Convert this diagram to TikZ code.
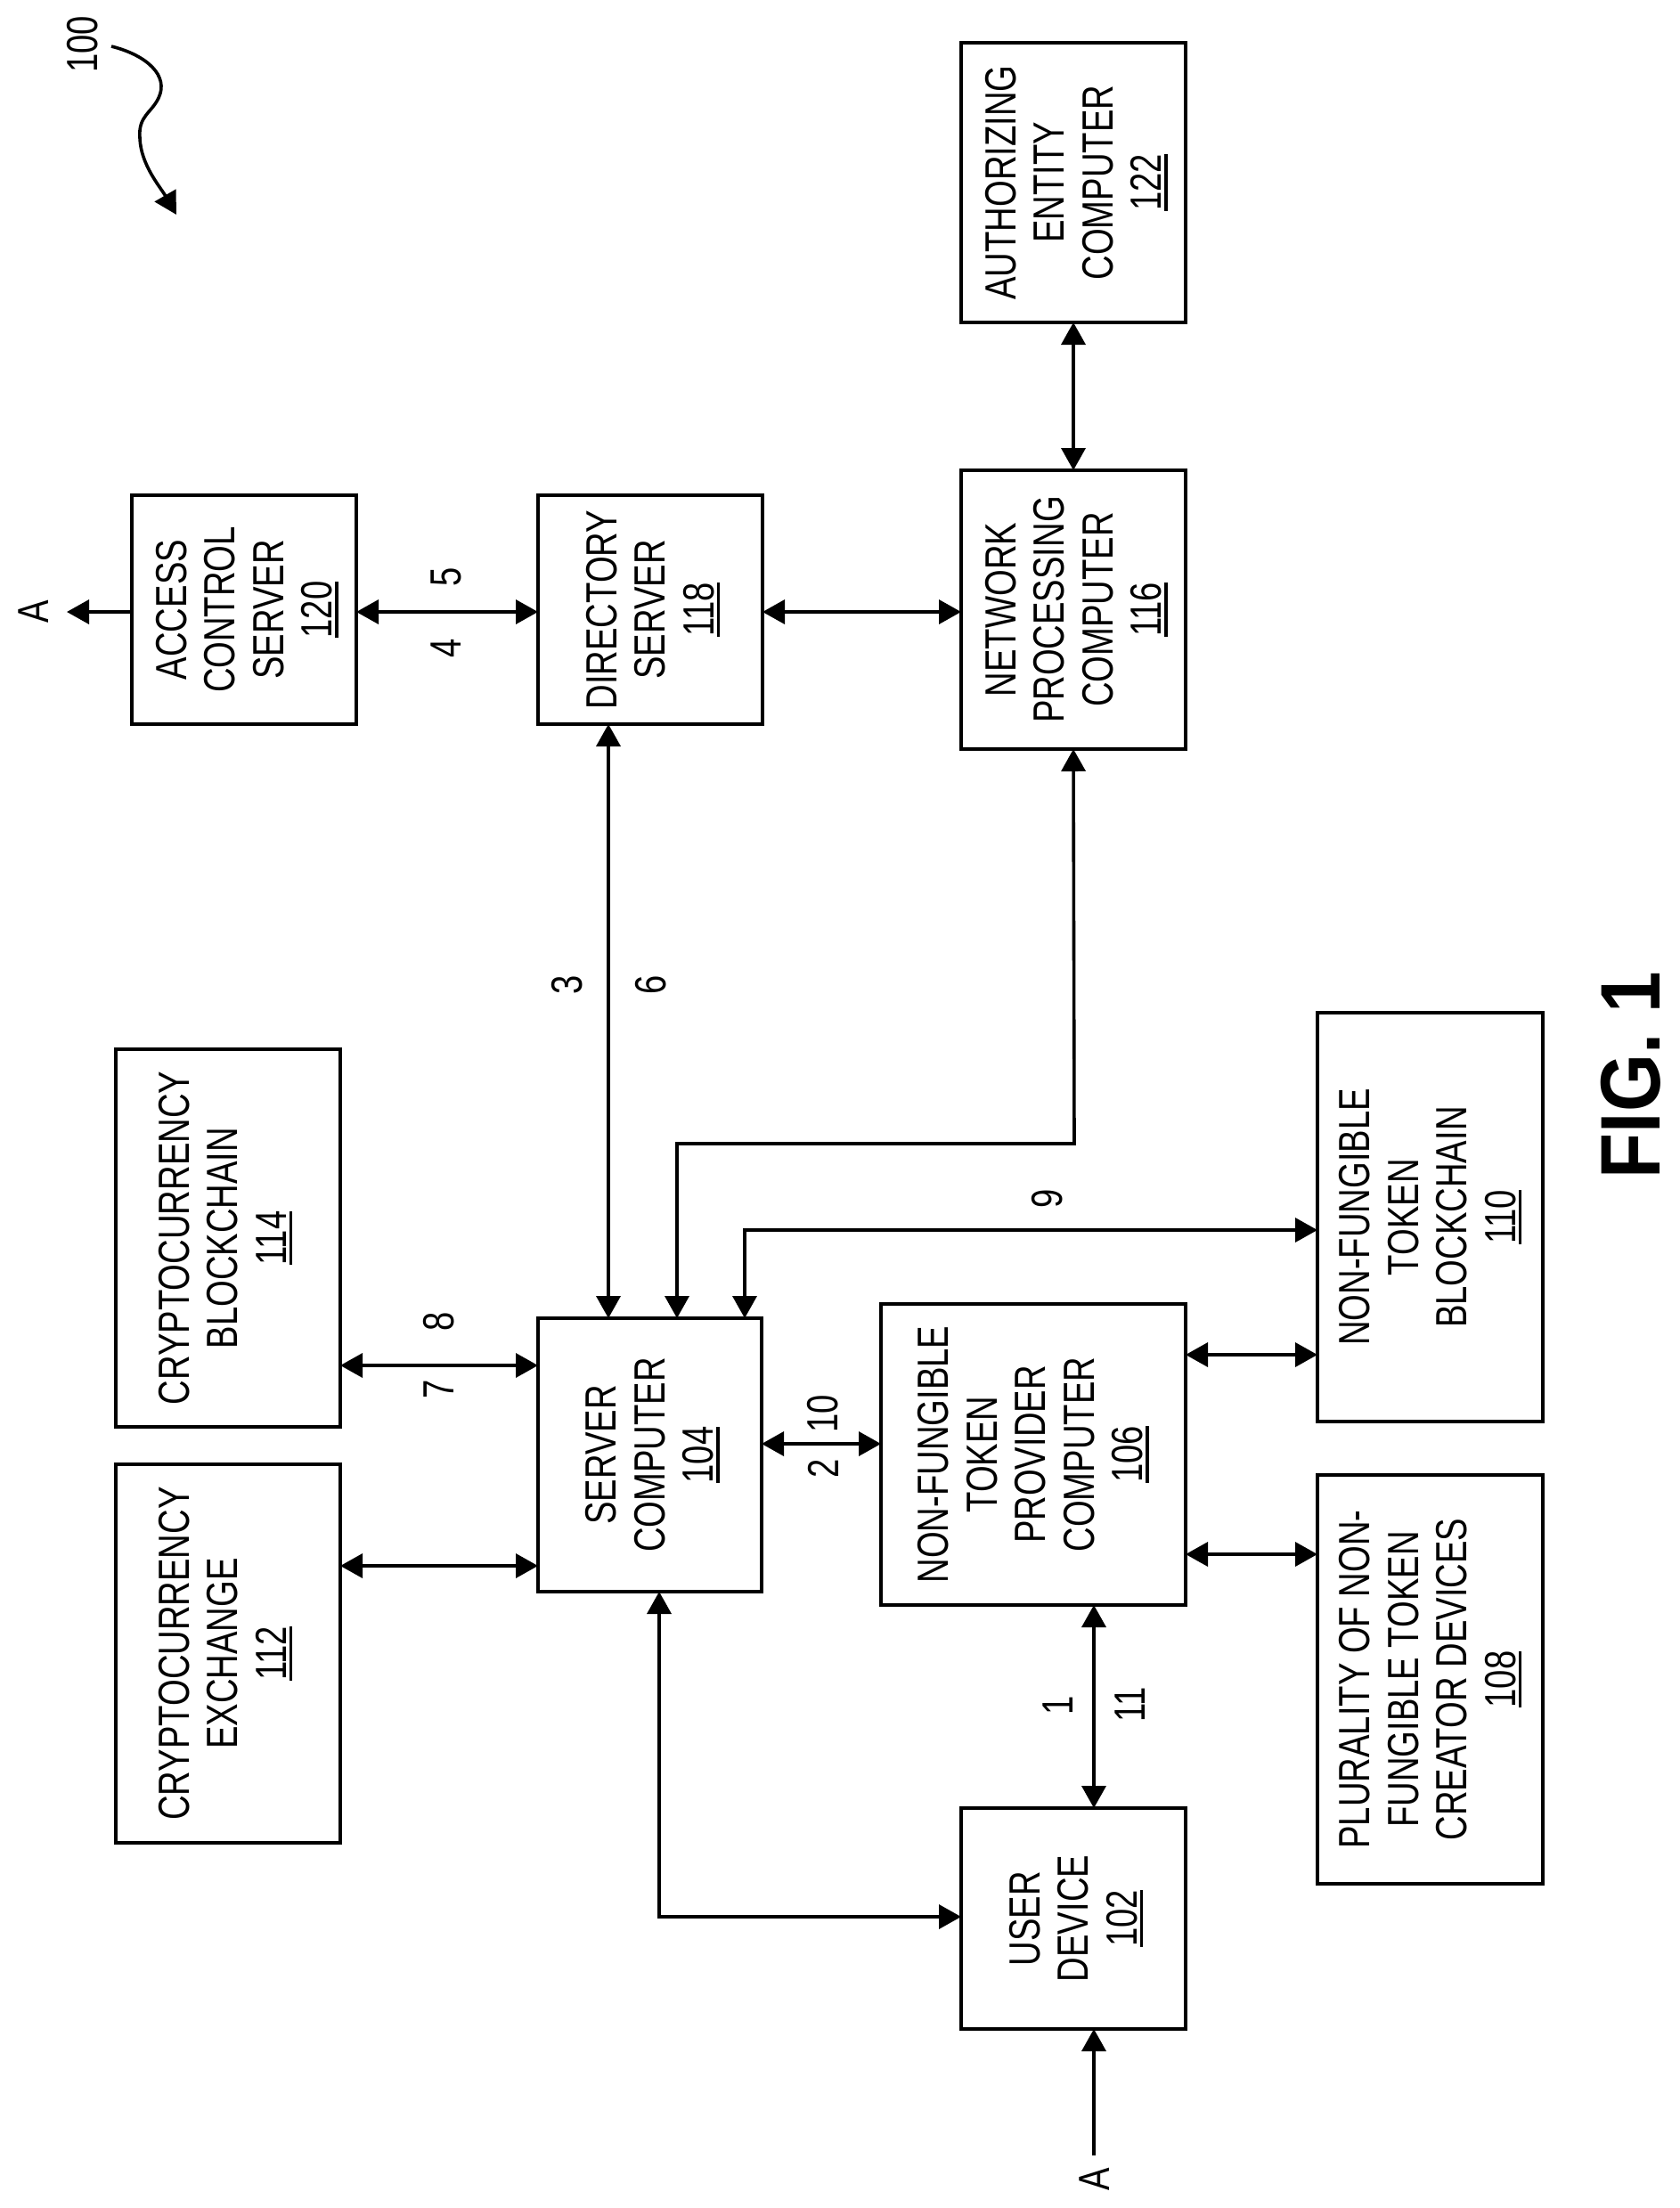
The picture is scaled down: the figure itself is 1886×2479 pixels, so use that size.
\documentclass[tikz,border=0pt]{standalone}
\usepackage{fontspec}
\usepackage{graphicx}
\setmainfont{Liberation Sans}[FakeStretch=0.78]
\newfontfamily\figfont{Liberation Sans}[FakeStretch=0.88]
\usetikzlibrary{arrows.meta,calc}
\newcommand\numul[1]{\setbox0=\hbox{#1}\leavevmode\rlap{\rule[-7pt]{\wd0}{3.5pt}}\box0}
\newcommand\toppad{50pt}
\newcommand\lines[1]{\rotatebox{90}{\begin{tabular}{@{}c@{}}\rule{0pt}{\toppad}#1\end{tabular}}}
\newcommand\bx[6]{%
 \pgfmathsetmacro\bw{#4-#2}\pgfmathsetmacro\bh{#5-#3}%
 \pgfmathsetmacro\cx{(#4+#2)/2}\pgfmathsetmacro\cy{(#5+#3)/2}%
 \node[blockbox,minimum width=\bw pt,minimum height=\bh pt] (#1) at (\cx,\cy) {\lines{#6}};}
\tikzset{
 blockbox/.style={draw=black,line width=4pt,inner sep=0pt,outer sep=0pt,fill=white,
   font=\fontsize{49}{54.5}\selectfont,align=center},
 conn/.style={line width=3.6pt,draw=black,{Triangle[length=25pt,width=27pt]}-{Triangle[length=25pt,width=27pt]}},
 oneway/.style={line width=3.6pt,draw=black,-{Triangle[length=25pt,width=27pt]}},
 lbl/.style={rotate=90,font=\fontsize{49}{54}\selectfont,inner sep=0pt},
}
\begin{document}
\begin{tikzpicture}[x=1pt,y=-1pt]
\useasboundingbox[fill=white] (0,0) rectangle (1886,2479);
\bx{n122}{1079}{48}{1331}{362}{AUTHORIZING\\ENTITY\\COMPUTER\\\numul{122}}
\bx{n116}{1079}{528}{1331}{841}{NETWORK\\PROCESSING\\COMPUTER\\\numul{116}}
\bx{n120}{148}{556}{400}{813}{ACCESS\\CONTROL\\SERVER\\\numul{120}}
\bx{n118}{604}{556}{856}{813}{DIRECTORY\\SERVER\\\numul{118}}
\bx{n104}{604}{1480}{855}{1787}{SERVER\\COMPUTER\\\numul{104}}
\bx{n102}{1079}{2030}{1331}{2278}{USER\\DEVICE\\\numul{102}}
\renewcommand\toppad{38pt}
\bx{n114}{130}{1178}{382}{1602}{CRYPTOCURRENCY\\BLOCKCHAIN\\\numul{114}}
\bx{n112}{130}{1644}{382}{2069}{CRYPTOCURRENCY\\EXCHANGE\\\numul{112}}
\renewcommand\toppad{44pt}
\bx{n106}{989}{1464}{1331}{1802}{NON-FUNGIBLE\\TOKEN\\PROVIDER\\COMPUTER\\\numul{106}}
\bx{n110}{1479}{1137}{1732}{1596}{NON-FUNGIBLE\\TOKEN\\BLOCKCHAIN\\\numul{110}}
\bx{n108}{1479}{1656}{1732}{2115}{PLURALITY OF NON-\\FUNGIBLE TOKEN\\CREATOR DEVICES\\\numul{108}}

\node[lbl] (atop) at (38,687) {A};
\node[lbl] (abot) at (1229,2447) {A};

% routing coordinates
\coordinate (r1) at (75,687);
\coordinate (r2) at (683,830);
\coordinate (r3) at (760,1284);
\coordinate (r4) at (1206,1284);
\coordinate (r5) at (836,1381);
\coordinate (r6) at (0,1533);
\coordinate (r7) at (0,1758);
\coordinate (r8) at (0,1621);
\coordinate (r9) at (0,1521);
\coordinate (r10) at (0,1745);
\coordinate (r11) at (1228,0);
\coordinate (r12) at (740,2152);
\coordinate (r13) at (1228,2420);
\coordinate (r14) at (0,687);

\draw[oneway] (n120.west |- r14) -- (r1);
\draw[conn] (n120.east |- r14) -- (n118.west |- r14);
\draw[conn] (n118.east |- r14) -- (n116.west |- r14);
\draw[conn] (n122.south) -- (n116.north);
\draw[conn] (n118.south -| r2) -- (n104.north -| r2);
\draw[conn] (n116.south) -- (r4) -- (r3) -- (n104.north -| r3);
\draw[conn] (n104.north -| r5) -- (r5) -- (n110.west |- r5);
\draw[conn] (n114.east |- r6) -- (n104.west |- r6);
\draw[conn] (n112.east |- r7) -- (n104.west |- r7);
\draw[conn] (n104.east |- r8) -- (n106.west |- r8);
\draw[conn] (n106.east |- r9) -- (n110.west |- r9);
\draw[conn] (n106.east |- r10) -- (n108.west |- r10);
\draw[conn] (n106.south -| r11) -- (n102.north -| r11);
\draw[oneway] (r13) -- (n102.south -| r13);
\draw[conn] (n104.south -| r12) -- (r12) -- (n102.west |- r12);

\node[lbl] (l5) at (501,648) {5};
\node[lbl] (l4) at (501,728) {4};
\node[lbl] (l3) at (637,1106) {3};
\node[lbl] (l6) at (731,1106) {6};
\node[lbl] (l9) at (1176,1346) {9};
\node[lbl] (l8) at (493,1484) {8};
\node[lbl] (l7) at (493,1560) {7};
\node[lbl] (l10) at (924,1587) {10};
\node[lbl] (l2) at (924,1649) {2};
\node[lbl] (l1) at (1188,1915) {1};
\node[lbl] (l11) at (1269,1914) {11};
\node[lbl] (l100) at (93,50) {100};
\node[lbl,font=\fontsize{95}{100}\figfont\bfseries] (fig) at (1831,1207) {FIG. 1};

\coordinate (c0) at (125,52);
\coordinate (c1) at (178,110);
\coordinate (c2) at (157,155);
\coordinate (c3) at (198,241);
\draw[line width=3.6pt,-{Triangle[length=25pt,width=27pt]}] (c0) .. controls (165,62) and (190,85) .. (c1) .. controls (170,127) and (155,130) .. (c2) .. controls (158,185) and (180,210) .. (c3);
\end{tikzpicture}
\end{document}
